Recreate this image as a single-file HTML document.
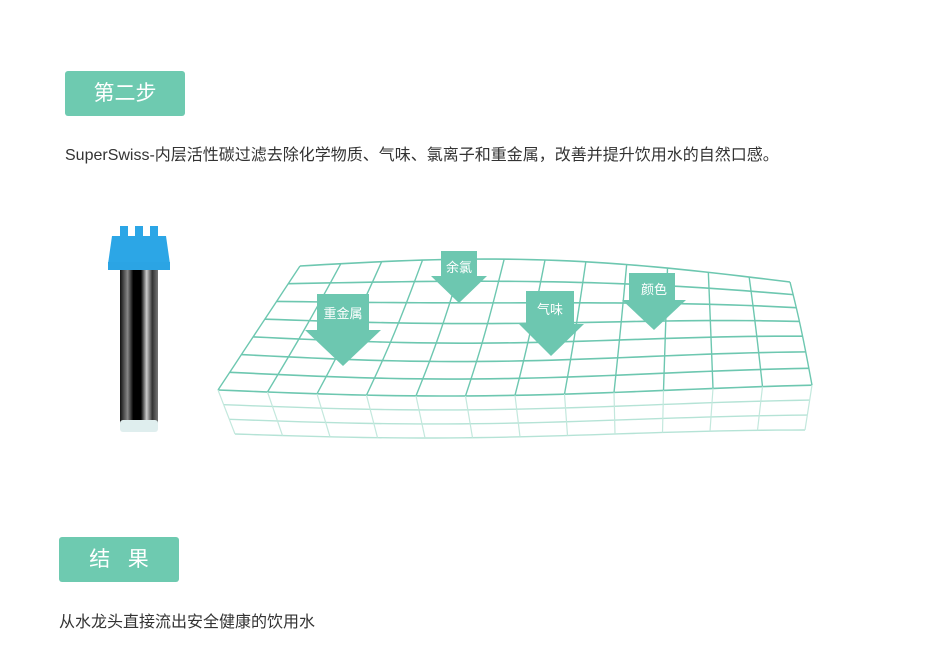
<!DOCTYPE html>
<html><head><meta charset="utf-8"><style>
body{margin:0;width:940px;height:658px;background:#fff;position:relative;overflow:hidden;font-family:"Liberation Sans","Noto Sans CJK SC",sans-serif}
.btn{position:absolute;background:#6ecab0;color:#fff;border-radius:3px;font-size:21px;text-align:center}
.t{position:absolute;color:#333;font-size:16px;white-space:nowrap}
svg{position:absolute;left:0;top:0}
</style></head><body>
<div class="btn" style="left:65px;top:71px;width:120px;height:45px;line-height:45px">第二步</div>
<div class="t" style="left:65px;top:141px">SuperSwiss-内层活性碳过滤去除化学物质、气味、氯离子和重金属，改善并提升饮用水的自然口感。</div>
<div class="btn" style="left:59px;top:537px;width:120px;height:45px;line-height:45px">结&nbsp;&nbsp;&nbsp;果</div>
<div class="t" style="left:59px;top:608px">从水龙头直接流出安全健康的饮用水</div>
<svg width="940" height="658" id="s">
<defs><linearGradient id="tb" x1="0" x2="1">
<stop offset="0" stop-color="#111"/><stop offset=".2" stop-color="#888"/><stop offset=".35" stop-color="#000"/><stop offset=".55" stop-color="#000"/><stop offset=".7" stop-color="#ccc"/><stop offset=".85" stop-color="#333"/><stop offset="1" stop-color="#777"/></linearGradient></defs>
<rect x="120" y="262" width="38" height="162" fill="url(#tb)"/>
<rect x="120" y="420" width="38" height="12" rx="3" fill="#dfeeee"/>
<path d="M112 236 L166 236 L170 264 L108 264 Z" fill="#2ca6e6"/>
<rect x="108" y="262" width="62" height="8" fill="#2ba4e4"/>
<rect x="120" y="226" width="8" height="12" fill="#2ca6e6"/><rect x="135" y="226" width="8" height="12" fill="#2ca6e6"/><rect x="150" y="226" width="8" height="12" fill="#2ca6e6"/>
<g id="g" fill="none"></g>
<g fill="#6dc7b0">
<rect x="317" y="294" width="52" height="36"/><path d="M305 330 L381 330 L343 366 Z"/>
<rect x="441" y="251" width="36" height="26"/><path d="M431 276 L487 276 L459 303 Z"/>
<rect x="526" y="291" width="48" height="34"/><path d="M519 324 L584 324 L551 356 Z"/>
<rect x="629" y="273" width="46" height="28"/><path d="M622 300 L686 300 L654 330 Z"/>
</g>
<g fill="#fff" font-size="13" text-anchor="middle" font-family="Liberation Sans,Noto Sans CJK SC,sans-serif">
<text x="343" y="318">重金属</text><text x="459" y="272">余氯</text><text x="550" y="314">气味</text><text x="654" y="294">颜色</text>
</g>
</svg>
<script>
(function(){
var g=document.getElementById('g'),ns='http://www.w3.org/2000/svg';
function tp(t){var x=300+490*t;var y=266+16*t-14*Math.sin(Math.PI*t);return[x,y]}
function bt(t){var x=218+594*t;var y=390+6*Math.sin(Math.PI*t*1.3);return[x,y]}
function bt2(t){var x=235+570*t;var y=434+4*Math.sin(Math.PI*t*1.5);return[x,y]}
function P(u,v,a,b){var p=a(u),q=b(u);var s=6*Math.sin(Math.PI*v)*Math.sin(Math.PI*u*1.3);return[p[0]+(q[0]-p[0])*v,p[1]+(q[1]-p[1])*v+s]}
function line(pts,c,w){var e=document.createElementNS(ns,'polyline');e.setAttribute('points',pts.map(function(p){return p.join(',')}).join(' '));e.setAttribute('stroke',c);e.setAttribute('stroke-width',w);e.setAttribute('fill','none');g.appendChild(e)}
var R=7,C=12,i,j,k,pts;
for(i=0;i<=R;i++){pts=[];for(k=0;k<=40;k++)pts.push(P(k/40,i/R,tp,bt));line(pts,'#6dc7b0',1.6)}
for(j=0;j<=C;j++){pts=[];for(k=0;k<=10;k++)pts.push(P(j/C,k/10,tp,bt));line(pts,'#6dc7b0',1.4)}
function Q(u,v){var p=bt(u),q=bt2(u);return[p[0]+(q[0]-p[0])*v,p[1]+(q[1]-p[1])*v]}
for(i=1;i<=3;i++){pts=[];for(k=0;k<=40;k++)pts.push(Q(k/40,i/3));line(pts,'#b5e3d6',1.4)}
for(j=0;j<=C;j++){pts=[];for(k=0;k<=6;k++)pts.push(Q(j/C,k/6));line(pts,'#c3e8dd',1.2)}
})();
</script>
</body></html>
